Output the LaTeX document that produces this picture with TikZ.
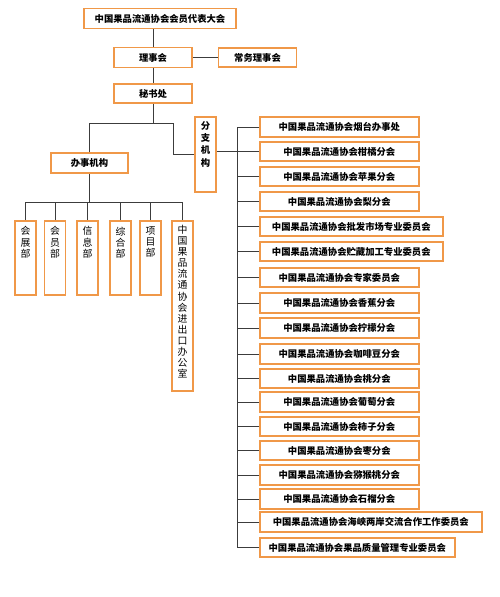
\documentclass[tikz,border=0pt]{standalone}
\usepackage{fontspec}
\newfontfamily\cjk{Noto Sans CJK SC}
\definecolor{boxline}{RGB}{240,152,72}
\definecolor{linkgray}{RGB}{60,60,60}
\newcommand{\colstack}[2]{\parbox[c][#1][t]{10pt}{\centering #2}}
\tikzset{every picture/.style={line width=0.75pt},
  unitbox/.style={draw=boxline,line width=1.2pt,fill=white,inner sep=0pt,
    font=\cjk\bfseries\fontsize{7}{8.3}\selectfont},
  deptbox/.style={draw=boxline,line width=1.2pt,fill=white,inner sep=0pt,
    font=\cjk\fontsize{7.4}{8.3}\selectfont,minimum width=15.75pt},
  link/.style={draw=linkgray,line width=0.75pt}}

\begin{document}
\begin{tikzpicture}[x=0.75pt,y=0.75pt,yscale=-1,xscale=1]
\useasboundingbox (0,0) rectangle (500,597);

% Text Node
\node [unitbox,minimum width=114pt,minimum height=15pt] (congress) at (160,18.5) {中国果品流通协会会员代表大会};
% Text Node
\node [unitbox,minimum width=58.5pt,minimum height=15pt] (board) at (153,57.5) {理事会};
% Text Node
\node [unitbox,minimum width=58.5pt,minimum height=14.5pt] (standing) at (257.5,57.5) {常务理事会};
% Text Node
\node [unitbox,minimum width=58.5pt,minimum height=14.5pt] (secretariat) at (153,93.5) {秘书处};
% Text Node
\node [unitbox,minimum width=57.75pt,minimum height=15pt] (office) at (89.5,163) {办事机构};
% Text Node
\node [unitbox,minimum width=15.75pt,minimum height=56.25pt] (branch) at (205.5,154.5) {\colstack{52pt}{\vspace*{1pt}分\\[1pt]支\\[1pt]机\\[1pt]构}};

% Departments
\node [deptbox,minimum height=55.5pt] (dexpo) at (25.5,258) {\colstack{51pt}{\vspace*{2pt}会\\展\\部}};
\node [deptbox,minimum height=55.5pt] (dmember) at (55,258) {\colstack{51pt}{\vspace*{2pt}会\\员\\部}};
\node [deptbox,minimum height=55.5pt] (dinfo) at (87.5,258) {\colstack{51pt}{\vspace*{2pt}信\\息\\部}};
\node [deptbox,minimum height=55.5pt] (dgeneral) at (120.5,258) {\colstack{51pt}{\vspace*{2pt}综\\合\\部}};
\node [deptbox,minimum height=55.5pt] (dproject) at (150.5,258) {\colstack{51pt}{\vspace*{2pt}项\\目\\部}};
\node [deptbox,minimum height=127.5pt] (dtrade) at (182.5,306) {\colstack{123pt}{\vspace*{1pt}中\\国\\果\\品\\流\\通\\协\\会\\进\\出\\口\\办\\公\\室}};

% Branches
\node [unitbox,anchor=west,minimum width=119.25pt,minimum height=14.6pt] (b1) at (259,127) {中国果品流通协会烟台办事处};
\node [unitbox,anchor=west,minimum width=119.25pt,minimum height=14.6pt] (b2) at (259,151.5) {中国果品流通协会柑橘分会};
\node [unitbox,anchor=west,minimum width=119.25pt,minimum height=14.6pt] (b3) at (259,176.5) {中国果品流通协会苹果分会};
\node [unitbox,anchor=west,minimum width=119.25pt,minimum height=14.6pt] (b4) at (259,201.5) {中国果品流通协会梨分会};
\node [unitbox,anchor=west,minimum width=137.25pt,minimum height=14.6pt] (b5) at (259,226.5) {中国果品流通协会批发市场专业委员会};
\node [unitbox,anchor=west,minimum width=137.25pt,minimum height=14.6pt] (b6) at (259,251.5) {中国果品流通协会贮藏加工专业委员会};
\node [unitbox,anchor=west,minimum width=119.25pt,minimum height=14.6pt] (b7) at (259,277.5) {中国果品流通协会专家委员会};
\node [unitbox,anchor=west,minimum width=119.25pt,minimum height=14.6pt] (b8) at (259,303) {中国果品流通协会香蕉分会};
\node [unitbox,anchor=west,minimum width=119.25pt,minimum height=14.6pt] (b9) at (259,328) {中国果品流通协会柠檬分会};
\node [unitbox,anchor=west,minimum width=119.25pt,minimum height=14.6pt] (b10) at (259,354) {中国果品流通协会咖啡豆分会};
\node [unitbox,anchor=west,minimum width=119.25pt,minimum height=14.6pt] (b11) at (259,378.5) {中国果品流通协会桃分会};
\node [unitbox,anchor=west,minimum width=119.25pt,minimum height=14.6pt] (b12) at (259,402) {中国果品流通协会葡萄分会};
\node [unitbox,anchor=west,minimum width=119.25pt,minimum height=14.6pt] (b13) at (259,426.5) {中国果品流通协会柿子分会};
\node [unitbox,anchor=west,minimum width=119.25pt,minimum height=14.6pt] (b14) at (259,450.5) {中国果品流通协会枣分会};
\node [unitbox,anchor=west,minimum width=119.25pt,minimum height=14.6pt] (b15) at (259,475) {中国果品流通协会猕猴桃分会};
\node [unitbox,anchor=west,minimum width=119.25pt,minimum height=14.6pt] (b16) at (259,499) {中国果品流通协会石榴分会};
\node [unitbox,anchor=west,minimum width=166.5pt,minimum height=14.6pt] (b17) at (259,522) {中国果品流通协会海峡两岸交流合作工作委员会};
\node [unitbox,anchor=west,minimum width=146.25pt,minimum height=14.6pt] (b18) at (259,547.5) {中国果品流通协会果品质量管理专业委员会};

\coordinate (split) at (153,123);
\coordinate (jog) at (173,123);
\coordinate (bus) at (88,202);
\coordinate (trunk) at (237,0);

%Straight Lines
\draw [link] (board.north) -- (board.north |- congress.south);
\draw [link] (board.east) -- (standing.west);
\draw [link] (board.south) -- (secretariat.north);
\draw [link] (secretariat.south) -- (split);
\draw [link] (office.north) |- (jog) |- (branch.west);
\draw [link] (office.south) -- (office.south |- bus);
\draw [link] (dexpo.north |- bus) -- (dtrade.north |- bus);
\foreach \d in {dexpo,dmember,dinfo,dgeneral,dproject,dtrade}
  \draw [link] (\d.north) -- (\d.north |- bus);
\draw [link] (branch.east |- b2.west) -- (b2.west);
\draw [link] (b1.west -| trunk) -- (b18.west -| trunk);
\foreach \b in {b1,b2,b3,b4,b5,b6,b7,b8,b9,b10,b11,b12,b13,b14,b15,b16,b17,b18}
  \draw [link] (\b.west) -- (\b.west -| trunk);

\end{tikzpicture}
\end{document}
